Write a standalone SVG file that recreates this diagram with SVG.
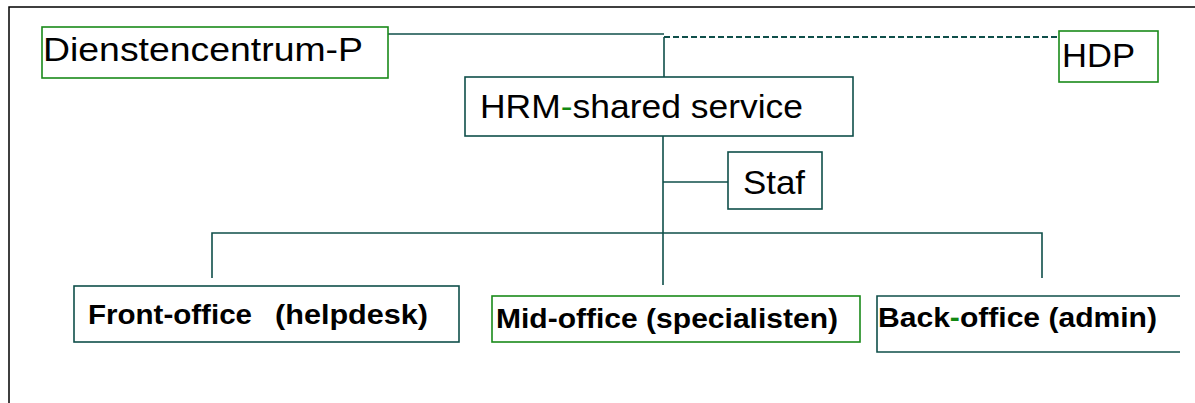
<svg xmlns="http://www.w3.org/2000/svg" width="1195" height="403" viewBox="0 0 1195 403">
  <style>
    .frame { fill: none; stroke: #000; stroke-width: 1.5; }
    .box { fill: #fff; stroke: #0f4f4a; stroke-width: 1.6; }
    .gbox { fill: #fff; stroke: #1a8a1a; stroke-width: 1.6; }
    .wire { fill: none; stroke: #0f4f4a; stroke-width: 1.6; }
    .dash { stroke-width: 2; stroke-dasharray: 6 3; }
    .lbl { font-family: "Liberation Sans", Arial, sans-serif; font-size: 34px; fill: #000; }
    .blbl { font-family: "Liberation Sans", Arial, sans-serif; font-size: 28px; font-weight: bold; fill: #000; }
    .hy { fill: #118811; }
  </style>
  <rect width="1195" height="403" fill="#fff"/>
  <!-- outer frame: top and left edges only -->
  <path class="frame" d="M9 403 V7 H1195"/>

  <g id="connectors">
    <path class="wire" d="M363 34 H664"/>
    <path class="wire dash" d="M664 37 H1063"/>
    <path class="wire" d="M664 37 V77"/>
    <path class="wire" d="M663 136 V285"/>
    <path class="wire" d="M663 182 H728"/>
    <path class="wire" d="M212 278 V233 H1042 V278"/>
  </g>

  <g id="dienstencentrum">
    <rect class="gbox" x="42" y="27" width="346" height="51"/>
    <text class="lbl" x="43" y="61" textLength="320" lengthAdjust="spacingAndGlyphs">Dienstencentrum-P</text>
  </g>

  <g id="hdp">
    <rect class="gbox" x="1059" y="31" width="99" height="51"/>
    <text class="lbl" x="1062" y="67" textLength="73" lengthAdjust="spacingAndGlyphs">HDP</text>
  </g>

  <g id="hrm">
    <rect class="box" x="465" y="77" width="388" height="59"/>
    <text class="lbl" x="480" y="118" textLength="323" lengthAdjust="spacingAndGlyphs">HRM<tspan class="hy">-</tspan>shared service</text>
  </g>

  <g id="staf">
    <rect class="box" x="728" y="152" width="94" height="57"/>
    <text class="lbl" x="743" y="194" textLength="62" lengthAdjust="spacingAndGlyphs">Staf</text>
  </g>

  <g id="front-office">
    <rect class="box" x="74" y="286" width="385" height="56"/>
    <text class="blbl" x="88" y="324" textLength="164" lengthAdjust="spacingAndGlyphs">Front-office</text>
    <text class="blbl" x="275" y="324" textLength="153" lengthAdjust="spacingAndGlyphs">(helpdesk)</text>
  </g>

  <g id="mid-office">
    <rect class="gbox" x="492" y="296" width="368" height="46"/>
    <text class="blbl" x="496" y="328" textLength="342" lengthAdjust="spacingAndGlyphs">Mid-office (specialisten)</text>
  </g>

  <g id="back-office">
    <path class="box" d="M1180 296 H877 V352 H1180"/>
    <text class="blbl" x="878" y="327" textLength="279" lengthAdjust="spacingAndGlyphs">Back<tspan class="hy">-</tspan>office (admin)</text>
  </g>
</svg>
